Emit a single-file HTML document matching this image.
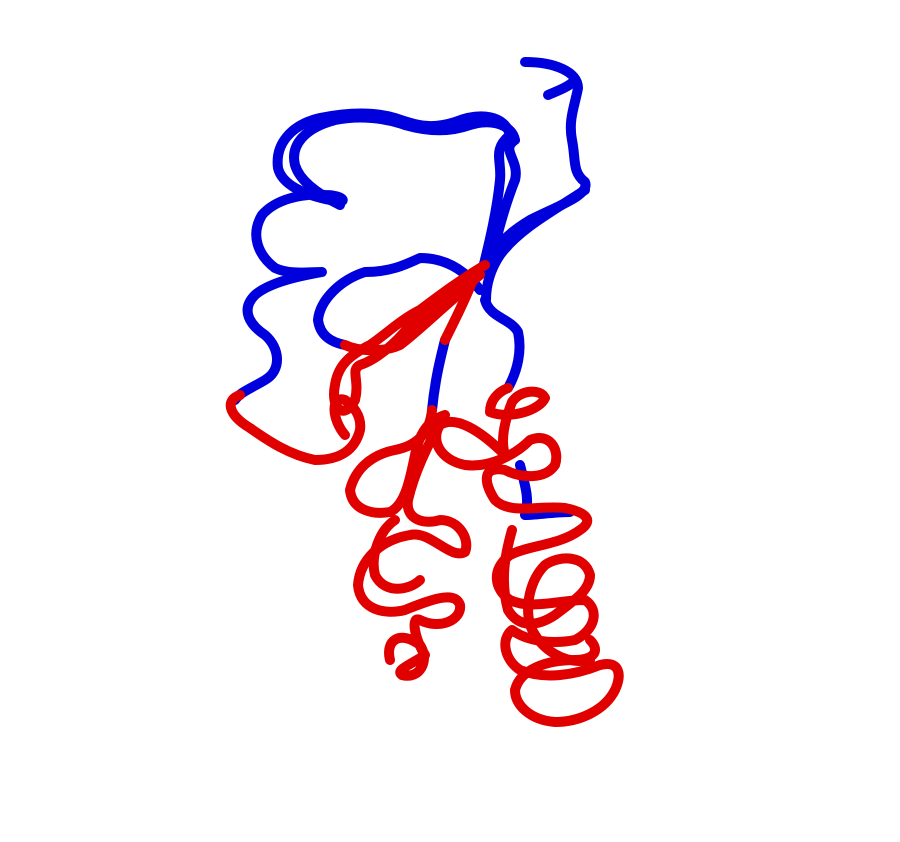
<!DOCTYPE html>
<html><head><meta charset="utf-8"><style>html,body{margin:0;padding:0;background:#fff;width:900px;height:842px;overflow:hidden}</style></head>
<body>
<svg width="900" height="842" viewBox="0 0 900 842">
<g fill="none" stroke-linecap="round" stroke-linejoin="round" stroke-width="10">
<g stroke="#0000dd">
<path d="M525,62 C555,62 578,72 578,88 C575,105 568,120 572,140 C576,160 572,172 585,182 C590,195 560,205 530,220 C505,235 492,250 482,272"/>
<path d="M548,95 C560,90 570,86 575,80"/>
<path d="M585,190 C555,210 520,228 500,255 C490,270 486,285 486,300"/>
<path d="M483,268 C490,240 497,210 500,180 C502,160 492,150 510,135 C505,115 480,112 455,122 C430,130 415,125 395,118 C375,112 350,112 320,118 C290,125 275,145 278,168 C282,185 305,195 330,200 C350,205 345,195 325,195 C300,193 275,200 262,215 C250,235 258,255 275,268 C290,275 310,272 322,272 C300,276 270,282 255,295 C240,310 250,325 265,335 C280,348 282,370 265,380 C252,388 240,392 235,400"/>
<path d="M490,270 C495,240 505,205 515,180 C520,160 500,150 515,140 C512,125 492,118 470,125 C450,132 430,132 405,125 C385,118 360,115 335,120 C305,128 290,145 295,165 C300,182 320,195 340,205"/>
<path d="M480,290 C465,270 445,258 420,258 C405,265 390,272 365,272 C340,280 320,300 318,320 C320,335 330,342 345,345"/>
<path d="M485,300 C490,318 510,318 518,332 C522,350 518,370 508,388"/>
<path d="M520,465 C525,485 530,500 525,515 C535,515 555,512 570,512"/>
<path d="M445,340 C440,360 435,380 432,410"/>
</g>
<g stroke="#e00000">
<path d="M240,395 C225,400 228,415 250,428 C270,442 290,455 315,460 C340,460 355,450 360,430 C362,415 352,405 345,400 C330,395 332,420 345,435"/>
<path d="M485,265 C460,280 440,295 420,310 C400,320 385,335 370,345 C350,355 338,365 335,385 C330,410 345,420 355,400 C360,380 350,370 360,365 C375,360 395,345 410,325 C430,310 455,295 480,275"/>
<path d="M345,345 C360,352 385,352 400,345 C420,330 445,305 470,285"/>
<path d="M475,275 C465,300 455,320 445,340"/>
<path d="M432,410 C430,430 420,445 395,450 C370,455 355,470 350,490 C352,510 372,515 390,512 C405,505 410,480 415,455 C420,430 430,420 445,415 C430,440 415,470 408,500 C405,520 425,525 440,520 C460,520 470,540 465,552 C450,560 430,530 410,535 C380,540 360,560 358,585 C360,610 385,615 405,610 C430,600 455,590 460,605 C462,620 440,630 420,620 C410,615 415,640 425,655 C410,665 395,670 402,675 C420,680 430,660 420,645 C400,630 385,640 390,660"/>
<path d="M395,520 C380,530 370,555 375,575 C385,595 410,590 420,580"/>
<path d="M508,388 C498,392 490,400 490,412 C510,420 540,410 545,398 C540,388 520,390 512,402 C505,420 500,440 505,455 C480,430 455,415 440,425 C430,440 440,460 465,465 C490,468 515,455 530,440 C550,432 560,450 555,465 C545,480 520,478 505,470 C480,465 485,485 495,500 C510,515 540,505 565,508 C585,512 595,520 580,530 C560,545 530,545 510,555 C490,570 495,590 510,600 C530,610 560,600 585,600 C600,610 595,630 575,640 C550,645 525,640 512,630 C500,640 505,660 520,670 C545,680 575,675 600,665 C620,660 622,675 615,690 C605,710 580,722 555,722 C530,720 515,705 515,690 C520,670 545,660 575,660 C595,660 600,650 590,640"/>
<path d="M512,530 C505,555 500,580 508,610 C520,630 540,625 555,615 C575,600 590,590 590,575 C585,555 560,555 545,565 C530,580 525,605 530,625 C540,650 565,665 590,660"/>
</g>
</g>
</svg>
</body></html>
